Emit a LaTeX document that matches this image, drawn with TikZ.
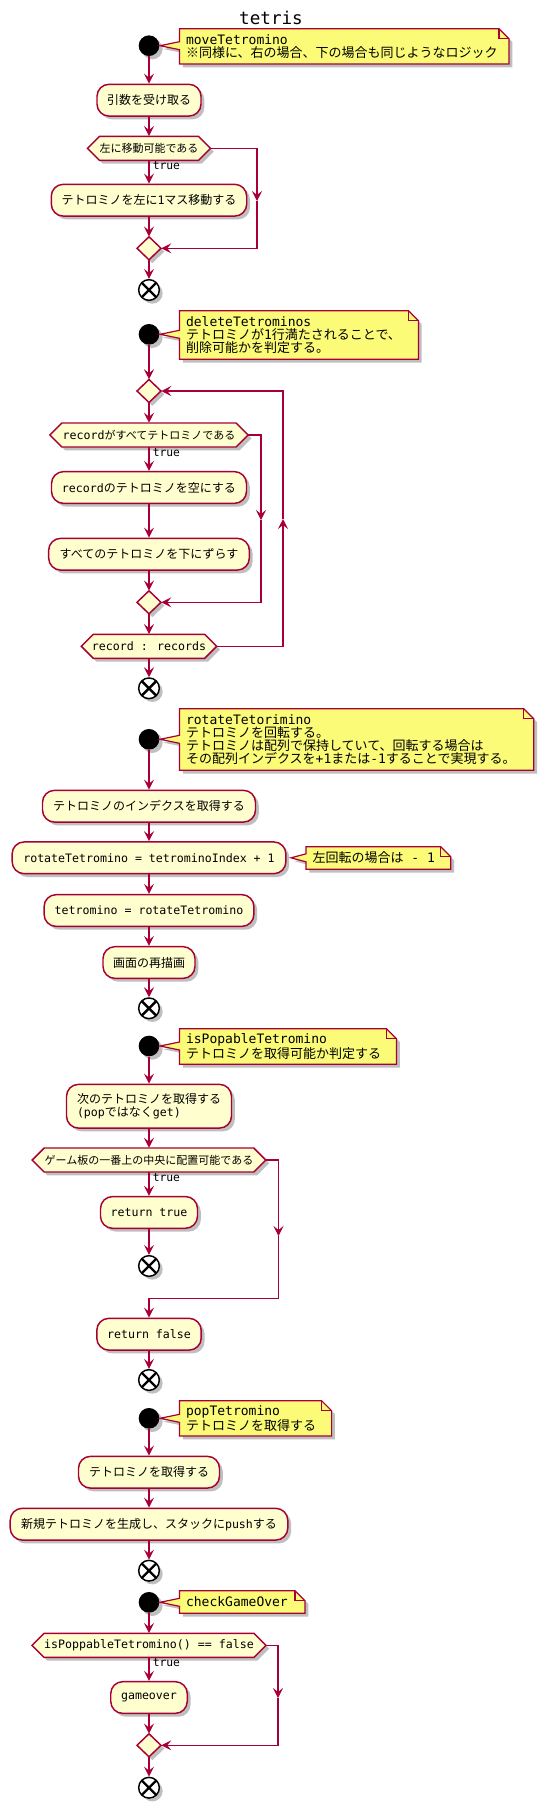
\documentclass[tikz,border=0pt]{standalone}
\usepackage{fontspec}
\setmainfont{Noto Sans CJK JP}
\newfontfamily\mono{DejaVu Sans Mono}
\usetikzlibrary{arrows.meta,shadows}
\definecolor{pred}{HTML}{A80036}
\definecolor{pfill}{HTML}{FEFECE}
\definecolor{pnote}{HTML}{FBFB77}
\newcommand\mt[1]{{\mono\fontsize{8.7}{10}\selectfont #1}}
\tikzset{
 pline/.style={draw=pred, line width=1pt},
 arr/.style={pline, -{Stealth[length=7.5pt,width=7.5pt,inset=3pt]}},
 shad/.style={drop shadow={shadow xshift=2.5pt,shadow yshift=-2.5pt,opacity=0.25,fill=black}},
 act/.style={draw=pred, fill=pfill, line width=1.1pt, rounded corners=9pt, minimum height=23.8pt, inner sep=0pt, align=center, font=\fontsize{9}{9.75}\selectfont, shad},
 hexpath/.style={draw=pred, fill=pfill, line width=1.1pt, shad},
 hexbox/.style={minimum height=18pt, inner sep=0pt, font=\fontsize{8.25}{9}\selectfont},
 diapath/.style={draw=pred, fill=pfill, line width=1.1pt, shad},
 diabox/.style={minimum width=18pt, minimum height=17.25pt, inner sep=0pt},
 notepath/.style={draw=pred, fill=pnote, line width=0.9pt, shad},
 notefold/.style={draw=pred, line width=0.9pt},
 notetext/.style={inner sep=0pt, align=left, font=\fontsize{9.75}{9.6}\selectfont, anchor=west},
 startc/.style={circle, fill=black, minimum size=15.5pt, inner sep=0pt, shad},
 endc/.style={circle, draw=black, fill=white, line width=1.1pt, minimum size=15.5pt, inner sep=0pt, shad,
   path picture={\draw[line width=1.8pt] (path picture bounding box.north west) -- (path picture bounding box.south east) (path picture bounding box.north east) -- (path picture bounding box.south west);}},
 truelab/.style={font=\mono\fontsize{8.5}{9}\selectfont, inner sep=0pt, anchor=west},
}
% name, x0, y0, x1, y1, tipx, tipy, text
\newcommand\pumlnote[8]{%
 \path[notepath] (#2,#3) -- ({#4-10},#3) -- (#4,{#3+10}) -- (#4,#5) -- (#2,#5) -- (#2,{#7+4}) -- (#6,#7) -- (#2,{#7-4}) -- cycle;
 \draw[notefold] ({#4-10},#3) -- ({#4-10},{#3+10}) -- (#4,{#3+10});
 \node[notetext] (#1) at ({#2+6.3},{(#3+#5)/2}) {#8};}
% name, cy, width(px), text
\newcommand\pumlhex[4]{%
 \path[hexpath] ({149-#3/2},#2) -- ({149-#3/2+12},{#2-12}) -- ({149+#3/2-12},{#2-12}) -- ({149+#3/2},#2) -- ({149+#3/2-12},{#2+12}) -- ({149-#3/2+12},{#2+12}) -- cycle;
 \node[hexbox, minimum width={#3*0.75pt}] (#1) at (149,#2) {#4};}
% name, cy
\newcommand\pumldia[2]{%
 \path[diapath] (137,#2) -- (149,{#2-11.5}) -- (161,#2) -- (149,{#2+11.5}) -- cycle;
 \node[diabox] (#1) at (149,#2) {};}
\begin{document}
\begin{tikzpicture}[x=0.75pt,y=-0.75pt]
\fill[white] (0,0) rectangle (541,1807);
\useasboundingbox (0,0) rectangle (541,1807);
\node[font=\mono\fontsize{13.2}{14}\selectfont, inner sep=0pt] (title) at (271,18) {tetris};

% ---- moveTetromino
\node[startc] (s1) at (149,45.7) {};
\pumlnote{n1}{179.5}{28.7}{509}{64}{160}{45.7}{{\mono moveTetromino}\\※同様に、右の場合、下の場合も同じようなロジック}
\node[act, minimum width=78pt] (a1) at (149,100.2) {引数を受け取る};
\pumlhex{h1}{148.3}{123}{左に移動可能である}
\node[truelab] (t1) at (152.5,165.7) {true};
\node[act, minimum width=146.6pt] (a2) at (149,200.2) {テトロミノを左に\mt{1}マス移動する};
\pumldia{m1}{248.3}
\node[endc] (e1) at (149,290) {};
\draw[arr] (s1) -- (a1);
\draw[arr] (a1) -- (h1);
\draw[arr] (h1) -- (a2);
\draw[arr] (a2) -- (m1);
\draw[arr] (m1) -- (e1);
\coordinate (b1) at (257,201);
\draw[arr] (h1.east) -| (b1);
\draw[arr] (b1) |- (m1.east);

% ---- deleteTetrominos
\node[startc] (s2) at (149,334.3) {};
\pumlnote{n2}{179.5}{310.7}{418.4}{359.3}{160}{334.3}{{\mono deleteTetrominos}\\テトロミノが{\mono 1}行満たされることで、\\削除可能かを判定する。}
\pumldia{d2}{391}
\pumlhex{h2}{435}{198.3}{\mt{record}がすべてテトロミノである}
\node[truelab] (t2) at (152.5,452.7) {true};
\node[act, minimum width=146.25pt] (a3) at (149,487.5) {\mt{record}のテトロミノを空にする};
\node[act, minimum width=150.5pt] (a4) at (149,554.2) {すべてのテトロミノを下にずらす};
\pumldia{m2}{602.3}
\pumlhex{h3}{646.3}{135.4}{\mt{record : records}}
\node[endc] (e2) at (149,688.3) {};
\draw[arr] (s2) -- (d2);
\draw[arr] (d2) -- (h2);
\draw[arr] (h2) -- (a3);
\draw[arr] (a3) -- (a4);
\draw[arr] (a4) -- (m2);
\draw[arr] (m2) -- (h3);
\draw[arr] (h3) -- (e2);
\coordinate (b2) at (261,520);
\draw[arr] (h2.east) -| (b2);
\draw[arr] (b2) |- (m2.east);
\coordinate (lp) at (283,519);
\draw[arr] (h3.east) -| (lp);
\draw[arr] (lp) |- (d2.east);

% ---- rotateTetorimino
\node[startc] (s3) at (149,739.3) {};
\pumlnote{n3}{179.5}{708.7}{533.7}{770.3}{160}{739.3}{{\mono rotateTetorimino}\\テトロミノを回転する。\\テトロミノは配列で保持していて、回転する場合は\\その配列インデクスを{\mono +1}または{\mono -1}することで実現する。}
\node[act, minimum width=159.75pt] (a5) at (149,806.2) {テトロミノのインデクスを取得する};
\node[act, minimum width=205.3pt] (a6) at (149,857.8) {\mt{rotateTetromino = tetrominoIndex + 1}};
\pumlnote{n3b}{306}{846.7}{450.7}{869.3}{291}{857.8}{左回転の場合は{\mono\ -\ 1}}
\node[act, minimum width=157.35pt] (a7) at (149,910.5) {\mt{tetromino = rotateTetromino}};
\node[act, minimum width=69pt] (a8) at (149,962.5) {画面の再描画};
\node[endc] (e3) at (149,1008.3) {};
\draw[arr] (s3) -- (a5);
\draw[arr] (a5) -- (a6);
\draw[arr] (a6) -- (a7);
\draw[arr] (a7) -- (a8);
\draw[arr] (a8) -- (e3);

% ---- isPopableTetromino
\node[startc] (s4) at (149,1046) {};
\pumlnote{n4}{179.5}{1028.7}{396.5}{1064.3}{160}{1046}{{\mono isPopableTetromino}\\テトロミノを取得可能か判定する}
\node[act, minimum width=123.75pt, minimum height=32.8pt, align=left] (a9) at (149,1106.2) {次のテトロミノを取得する\\\mt{(pop}ではなく\mt{get)}};
\pumlhex{h4}{1160}{233.6}{ゲーム板の一番上の中央に配置可能である}
\node[truelab] (t4) at (152.5,1177.3) {true};
\node[act, minimum width=72.75pt] (a10) at (149,1212.4) {\mt{return true}};
\node[endc] (e4a) at (149,1266) {};
\node[act, minimum width=78.3pt] (a11) at (149,1334.2) {\mt{return false}};
\node[endc] (e4b) at (149,1380) {};
\draw[arr] (s4) -- (a9);
\draw[arr] (a9) -- (h4);
\draw[arr] (h4) -- (a10);
\draw[arr] (a10) -- (e4a);
\coordinate (b4) at (278.5,1236);
\coordinate (b4c) at (278.5,1298.3);
\draw[arr] (h4.east) -| (b4);
\draw[arr] (b4) -- (b4c) -| (a11.north);
\draw[arr] (a11) -- (e4b);

% ---- popTetromino
\node[startc] (s5) at (149,1418.3) {};
\pumlnote{n5}{179.5}{1400.7}{331.6}{1436}{160}{1418.3}{{\mono popTetromino}\\テトロミノを取得する}
\node[act, minimum width=105.75pt] (a12) at (149,1472.2) {テトロミノを取得する};
\node[act, minimum width=208.2pt] (a13) at (149,1524.2) {新規テトロミノを生成し、スタックに\mt{push}する};
\node[endc] (e5) at (149,1570.7) {};
\draw[arr] (s5) -- (a12);
\draw[arr] (a12) -- (a13);
\draw[arr] (a13) -- (e5);

% ---- checkGameOver
\node[startc] (s6) at (149,1602.3) {};
\pumlnote{n6}{179.5}{1590.7}{305}{1613.3}{160}{1602.3}{{\mono checkGameOver}}
\pumlhex{h6}{1645.3}{234}{\mt{isPoppableTetromino() == false}}
\node[truelab] (t6) at (152.5,1662.7) {true};
\node[act, minimum width=57.4pt] (a14) at (149,1697.5) {\mt{gameover}};
\pumldia{m6}{1745.3}
\node[endc] (e6) at (149,1787.7) {};
\draw[arr] (s6) -- (h6);
\draw[arr] (h6) -- (a14);
\draw[arr] (a14) -- (m6);
\draw[arr] (m6) -- (e6);
\coordinate (b6) at (278,1698);
\draw[arr] (h6.east) -| (b6);
\draw[arr] (b6) |- (m6.east);
\end{tikzpicture}
\end{document}
